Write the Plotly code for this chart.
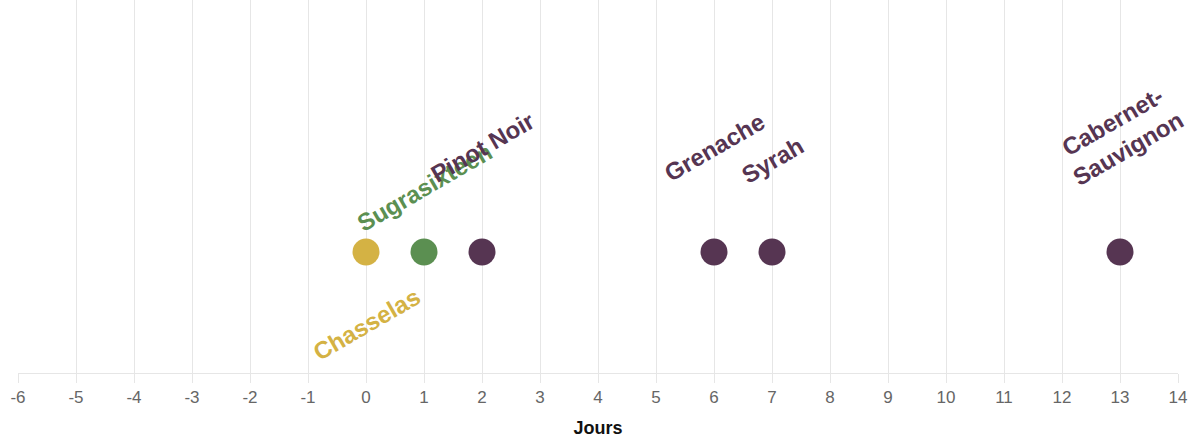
import plotly.graph_objects as go

cepages = ["Chasselas", "Sugrasixteen", "Pinot Noir", "Grenache", "Syrah", "Cabernet-<br>Sauvignon"]
jours = [0, 1, 2, 6, 7, 13]
niveau = [0, 0, 0, 0, 0, 0]
couleurs = ["#d4b244", "#5b8f51", "#563552", "#563552", "#563552", "#563552"]
decalage_label = [-72, 65, 105, 105, 92, 117]
tick_vals = list(range(-6, 15))

fig = go.Figure()
fig.add_trace(go.Scatter(
    x=jours, y=niveau, mode="markers",
    marker=dict(size=27, color=couleurs, line=dict(width=0)),
    hoverinfo="skip", showlegend=False, cliponaxis=False,
))
for name, xv, yv, c, dy in zip(cepages, jours, niveau, couleurs, decalage_label):
    fig.add_annotation(x=xv, y=yv, text=name, showarrow=False, textangle=-30,
                       yshift=dy, font=dict(family="Liberation Sans, Arial", size=24, color=c, weight="bold"),
                       xanchor="center", yanchor="middle")

fig.update_layout(
    width=1190, height=438,
    margin=dict(l=18, r=12, t=0, b=65, autoexpand=False),
    plot_bgcolor="white", paper_bgcolor="white",
    font=dict(family="Liberation Sans, Arial", color="#666666", size=17),
    xaxis=dict(range=[-6, 14], tickvals=tick_vals, ticktext=[str(v) for v in tick_vals],
               automargin=False,
               showgrid=True, gridcolor="#e6e6e6", gridwidth=1, zeroline=False,
               showline=True, linecolor="#e6e6e6", linewidth=1,
               ticks="outside", ticklen=9, tickcolor="#e6e6e6",
               title=dict(text="<b>Jours</b>", font=dict(color="#111111", size=18), standoff=14)),
    yaxis=dict(range=[-1, 2.083], visible=False, showgrid=False, zeroline=False, automargin=False),
)
fig.write_html("out.html", config={"displayModeBar": False},
               post_script="document.body.style.margin='0px';document.body.style.overflow='hidden';")
